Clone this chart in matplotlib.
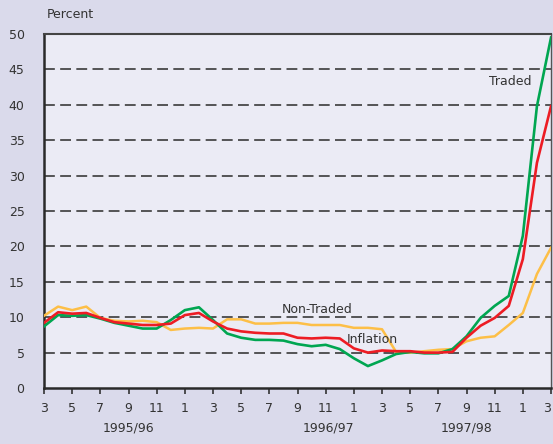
import numpy as np
import matplotlib
matplotlib.use('Agg')
import matplotlib.pyplot as plt

# monthly, Mar 1995 .. Mar 1998
months = np.arange(37)
tick_labels = ['3', '5', '7', '9', '11', '1', '3', '5', '7', '9', '11',
               '1', '3', '5', '7', '9', '11', '1', '3']
year_labels = ['1995/96', '1996/97', '1997/98']
year_pos = [6, 20.2, 30]

traded = [8.7, 10.3, 10.2, 10.3, 9.8, 9.2, 8.8, 8.4, 8.4, 9.6,
          11.0, 11.4, 9.6, 7.7, 7.1, 6.8, 6.8, 6.7, 6.2, 5.9,
          6.1, 5.5, 4.2, 3.1, 3.9, 4.8, 5.1, 4.9, 4.9, 5.5,
          7.3, 9.9, 11.6, 13.0, 21.5, 39.8, 49.5]
non_traded = [9.2, 10.7, 10.5, 10.6, 9.9, 9.3, 9.1, 8.9, 8.9, 9.1,
              10.3, 10.6, 9.4, 8.4, 8.0, 7.8, 7.7, 7.7, 7.1, 7.0,
              7.1, 7.0, 5.6, 5.0, 5.3, 5.2, 5.2, 5.0, 5.0, 5.1,
              7.1, 8.8, 9.9, 11.6, 18.2, 31.8, 39.8]
inflation = [10.2, 11.5, 11.0, 11.5, 9.9, 9.5, 9.4, 9.5, 9.3, 8.2,
             8.4, 8.5, 8.4, 9.7, 9.7, 9.1, 9.1, 9.2, 9.2, 8.9,
             8.9, 8.9, 8.5, 8.5, 8.3, 5.1, 5.0, 5.2, 5.4, 5.5,
             6.6, 7.1, 7.3, 8.9, 10.6, 16.1, 19.8]

fig = plt.figure(figsize=(5.53, 4.44), dpi=100)
fig.patch.set_facecolor('#dadaeb')
ax = fig.add_axes([0.0796, 0.1261, 0.9168, 0.7973])
ax.set_facecolor('#ebebf5')

ax.plot(months, inflation, color='#fdbf47', lw=1.8, zorder=3)
ax.plot(months, traded, color='#00a651', lw=1.9, zorder=4)
ax.plot(months, non_traded, color='#ed1c24', lw=1.9, zorder=5)

ax.set_xlim(0, 36)
ax.set_ylim(0, 50)
ax.set_yticks(np.arange(0, 51, 5))
for v in range(5, 50, 5):
    ax.axhline(v, color='#3a3a3a', lw=1.2, dashes=(6.5, 3.2), zorder=2)

ax.set_xticks(np.arange(0, 37, 2))
ax.set_xticklabels(tick_labels)
ax.get_xticklabels()[-1].set_horizontalalignment('right')
ax.tick_params(axis='x', direction='out', length=4, width=1.2, color='#333333',
               labelsize=9, labelcolor='#333333', pad=6)
ax.tick_params(axis='y', length=0, labelsize=9, labelcolor='#333333', pad=14)

for s in ['left', 'bottom']:
    ax.spines[s].set_linewidth(1.8)
    ax.spines[s].set_color('#2a2a2a')
ax.spines['top'].set_linewidth(1.5)
ax.spines['top'].set_color('#444444')
ax.spines['right'].set_linewidth(1.0)
ax.spines['right'].set_color('#555555')

for lab, p in zip(year_labels, year_pos):
    ax.text(p, -5.6, lab, ha='center', va='center', fontsize=9, color='#333333')

fig.text(0.085, 0.968, 'Percent', ha='left', va='center', fontsize=9, color='#333333')
ax.text(33.1, 43.3, 'Traded', ha='center', va='center', fontsize=9, color='#333333')
ax.text(19.4, 11.1, 'Non-Traded', ha='center', va='center', fontsize=9, color='#333333')
ax.text(23.3, 6.9, 'Inflation', ha='center', va='center', fontsize=9, color='#333333')

fig.savefig('out.png', dpi=100, facecolor=fig.get_facecolor())
